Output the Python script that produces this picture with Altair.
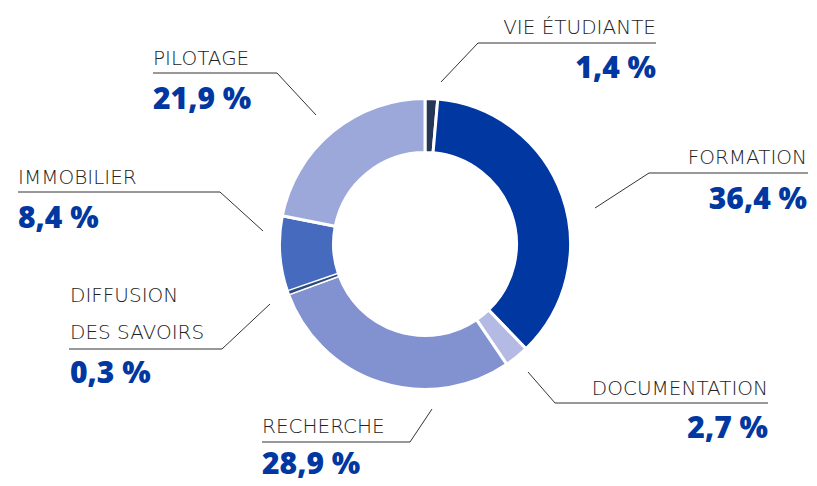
import altair as alt
import pandas as pd

# ---- data ----
categories = ["VIE ÉTUDIANTE", "FORMATION", "DOCUMENTATION", "RECHERCHE",
              "DIFFUSION DES SAVOIRS", "IMMOBILIER", "PILOTAGE"]
values = [1.4, 36.4, 2.7, 28.9, 0.3, 8.4, 21.9]
label_texts = ["VIE ÉTUDIANTE", "FORMATION", "DOCUMENTATION", "RECHERCHE",
               "DIFFUSION|DES SAVOIRS", "IMMOBILIER", "PILOTAGE"]
pct_texts = ["1,4 %", "36,4 %", "2,7 %", "28,9 %", "0,3 %", "8,4 %", "21,9 %"]

# ---- styles ----
colors = ["#263655", "#0037A0", "#B4BAE4", "#8292D0", "#2C4A7C", "#466BBE", "#9CA8DA"]
W, H = 801, 470
OFF = 8  # page margin, layout below is in page pixels

# ---- annotation layout (page pixels) ----
layout = {
    "VIE ÉTUDIANTE": dict(side="right", tx=656, ly=34, py=78,
                          pts=[(441, 82), (478, 43), (656, 43)]),
    "FORMATION": dict(side="right", tx=807, ly=164, py=209,
                      pts=[(595, 208), (649, 173), (808, 173)]),
    "DOCUMENTATION": dict(side="right", tx=768, ly=395, py=438,
                          pts=[(528, 372), (555, 403), (768, 403)]),
    "RECHERCHE": dict(side="left", tx=262, ly=433, py=474,
                      pts=[(432, 409), (410, 442), (262, 442)]),
    "DIFFUSION DES SAVOIRS": dict(side="left", tx=70, ly=302, py=383,
                                  pts=[(270, 304), (222, 349), (69, 349)]),
    "IMMOBILIER": dict(side="left", tx=18, ly=184, py=228,
                       pts=[(263, 231), (220, 192), (18, 192)]),
    "PILOTAGE": dict(side="left", tx=153, ly=65, py=109,
                     pts=[(316, 115), (277, 73), (153, 73)]),
}

arc_df = pd.DataFrame({"cat": categories, "value": values,
                       "idx": list(range(len(categories)))})

line_rows = []
for c in categories:
    for i, (x, y) in enumerate(layout[c]["pts"]):
        line_rows.append({"cat": c, "ord": i, "x": x, "y": y})
line_df = pd.DataFrame(line_rows)

text_rows = []
for c, lt, pt in zip(categories, label_texts, pct_texts):
    L = layout[c]
    text_rows.append({"cat": c, "side": L["side"], "x": L["tx"],
                      "ly": L["ly"], "py": L["py"], "label": lt, "pct": pt})
text_df = pd.DataFrame(text_rows)

xs = alt.Scale(domain=[OFF, OFF + W], range=[0, W], nice=False, zero=False)
ys = alt.Scale(domain=[OFF, OFF + H], range=[0, H], nice=False, zero=False)

cx, cy = 425 - OFF, 244 - OFF

color_scale = alt.Scale(domain=categories, range=colors)

arcs = alt.Chart(arc_df).mark_arc(
    innerRadius=91.5, outerRadius=145.5, stroke="white", strokeWidth=3
).encode(
    theta=alt.Theta("value:Q", stack=True),
    color=alt.Color("cat:N", scale=color_scale, legend=None),
    order=alt.Order("idx:Q"),
    x=alt.value(cx), y=alt.value(cy),
)

arc_thin = alt.Chart(arc_df).mark_arc(
    innerRadius=93, outerRadius=144
).encode(
    theta=alt.Theta("value:Q", stack=True),
    color=alt.Color("cat:N", scale=color_scale, legend=None),
    order=alt.Order("idx:Q"),
    opacity=alt.condition(alt.datum.value < 1, alt.value(1), alt.value(0)),
    x=alt.value(cx), y=alt.value(cy),
)

lines = alt.Chart(line_df).mark_line(color="#333333", strokeWidth=1).encode(
    x=alt.X("x:Q", scale=xs, axis=None),
    y=alt.Y("y:Q", scale=ys, axis=None),
    detail="cat:N",
    order="ord:Q",
)

LABEL_FONT = "DejaVu Sans"
NUM_FONT = "Open Sans"


def labels(side):
    base = alt.Chart(text_df).transform_filter(alt.datum.side == side)
    lab = base.mark_text(
        align=side, baseline="alphabetic", font=LABEL_FONT, fontSize=20,
        fontWeight=200, color="#222222", lineBreak="|", lineHeight=37
    ).encode(
        x=alt.X("x:Q", scale=xs, axis=None),
        y=alt.Y("ly:Q", scale=ys, axis=None),
        text="label:N",
    )
    pct = base.mark_text(
        align=side, baseline="alphabetic", font=NUM_FONT, fontSize=30,
        fontWeight=800, color="#0037A0"
    ).encode(
        x=alt.X("x:Q", scale=xs, axis=None),
        y=alt.Y("py:Q", scale=ys, axis=None),
        text="pct:N",
    )
    return lab + pct


chart = alt.layer(arcs, arc_thin, lines, labels("left"), labels("right")).properties(
    width=W, height=H, padding=0,
    autosize=alt.AutoSizeParams(type="none"),
).configure(background="white").configure_view(stroke=None)

chart.save("out.html", embed_options={"renderer": "svg", "actions": False})
